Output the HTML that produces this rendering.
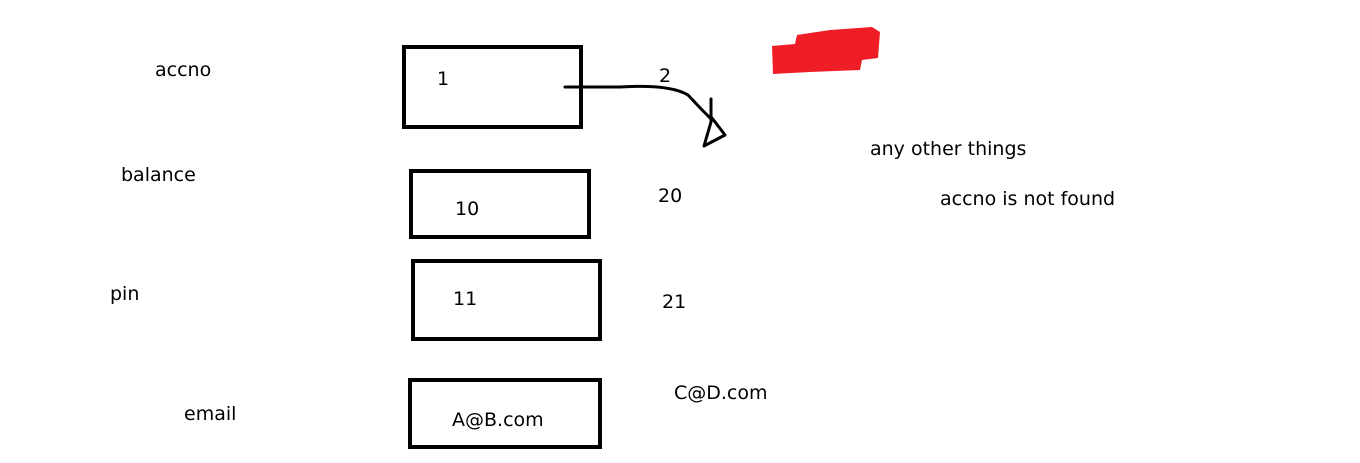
<!DOCTYPE html>
<html><head><meta charset="utf-8"><style>
body{margin:0;width:1360px;height:463px;background:#fff;position:relative;overflow:hidden;font-family:"DejaVu Sans","Liberation Sans",sans-serif;font-size:19px;color:#000}
.t{position:absolute;line-height:20px;white-space:nowrap}
.b{position:absolute;border:4px solid #000;box-sizing:border-box}
</style></head><body>
<div class="t" style="left:155px;top:60px">accno</div>
<div class="t" style="left:121px;top:165px">balance</div>
<div class="t" style="left:110px;top:284px">pin</div>
<div class="t" style="left:184px;top:404px">email</div>
<div class="b" style="left:402px;top:45px;width:181px;height:84px"></div>
<div class="b" style="left:409px;top:169px;width:182px;height:70px"></div>
<div class="b" style="left:411px;top:259px;width:191px;height:82px"></div>
<div class="b" style="left:408px;top:378px;width:194px;height:71px"></div>
<div class="t" style="left:437px;top:69px">1</div>
<div class="t" style="left:455px;top:199px">10</div>
<div class="t" style="left:453px;top:289px">11</div>
<div class="t" style="left:452px;top:410px">A@B.com</div>
<div class="t" style="left:659px;top:66px">2</div>
<div class="t" style="left:658px;top:186px">20</div>
<div class="t" style="left:662px;top:292px">21</div>
<div class="t" style="left:674px;top:383px">C@D.com</div>
<div class="t" style="left:870px;top:139px">any other things</div>
<div class="t" style="left:940px;top:189px">accno is not found</div>
<svg width="1360" height="463" style="position:absolute;left:0;top:0">
<path d="M565 87 L620 87 Q670 84 688 95 Q700 108 712 120" fill="none" stroke="#000" stroke-width="3" stroke-linecap="round"/>
<path d="M711 99 L711 122 L704 146 L725 135 L712 118" fill="none" stroke="#000" stroke-width="3" stroke-linejoin="round" stroke-linecap="round"/>
<path d="M772 46 L795 44 L797 35 L830 30 L872 27 L880 32 L878 58 L862 60 L860 70 L810 72 L773 74 Z" fill="#ee1d26"/>
</svg>
</body></html>
